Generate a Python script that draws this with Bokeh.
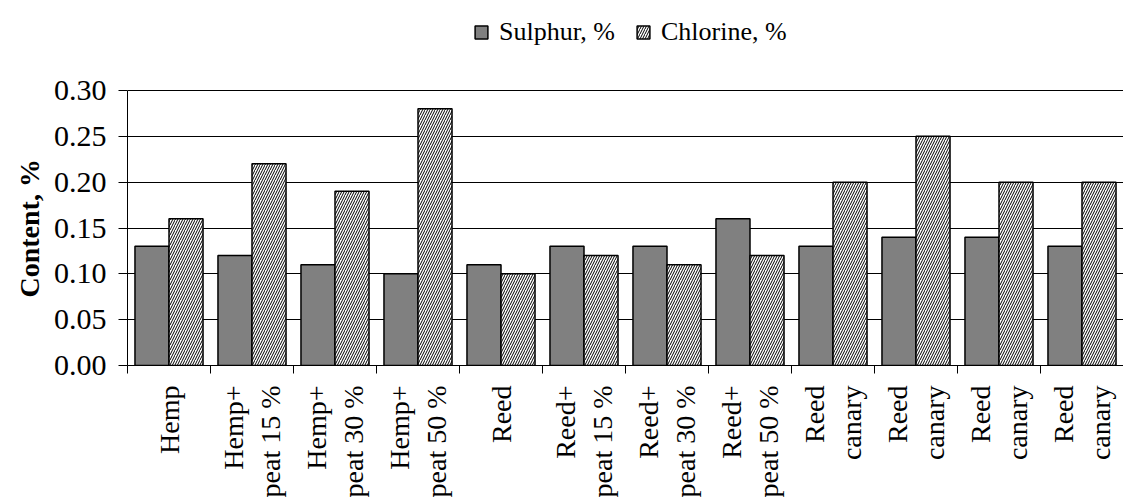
from bokeh.plotting import figure
from bokeh.models import Range1d, FixedTicker, Legend, LegendItem, ColumnDataSource, Title
from bokeh.embed import file_html
from bokeh.resources import INLINE

categories = ["Hemp", "Hemp+\npeat 15 %", "Hemp+\npeat 30 %", "Hemp+\npeat 50 %",
              "Reed", "Reed+\npeat 15 %", "Reed+\npeat 30 %", "Reed+\npeat 50 %",
              "Reed\ncanary", "Reed\ncanary", "Reed\ncanary", "Reed\ncanary"]
sulphur = [0.13, 0.12, 0.11, 0.10, 0.11, 0.13, 0.13, 0.16, 0.13, 0.14, 0.14, 0.13]
chlorine = [0.16, 0.22, 0.19, 0.28, 0.10, 0.12, 0.11, 0.12, 0.20, 0.25, 0.20, 0.20]
y_ticks = [0.0, 0.05, 0.10, 0.15, 0.20, 0.25, 0.30]

FONT = "Liberation Serif"
n = len(categories)
centers = [i + 0.5 for i in range(n)]
bw = 0.41

# frame spans pixels 0..365; value axis 0..0.30 occupies the lower 275 px,
# the space above holds the legend
Y_TOP = 0.30 * 365 / 275

src = ColumnDataSource(dict(
    xs=[c - bw / 2 for c in centers],
    xc=[c + bw / 2 for c in centers],
    s=sulphur, c=chlorine))

p = figure(width=1123, height=500, output_backend="svg", toolbar_location=None,
           x_range=Range1d(0, n), y_range=Range1d(0, Y_TOP),
           min_border_left=127, min_border_top=0, min_border_right=0,
           min_border_bottom=135)
p.outline_line_color = None
p.background_fill_color = "white"
p.border_fill_color = "white"

rs = p.vbar(x="xs", top="s", width=bw, source=src, fill_color="#808080",
            line_color="black", line_width=1.5)
rc = p.vbar(x="xc", top="c", width=bw, source=src, fill_color="white",
            line_color="black", line_width=1.5, hatch_pattern="/",
            hatch_color="black", hatch_scale=5, hatch_weight=1)

# x axis
xa = p.xaxis[0]
xa.ticker = FixedTicker(ticks=centers, minor_ticks=list(range(n + 1)))
xa.major_label_overrides = {c: lab for c, lab in zip(centers, categories)}
xa.major_tick_line_color = None
xa.major_tick_out = 0
xa.minor_tick_out = 8
xa.minor_tick_in = 0
xa.minor_tick_line_color = "black"
xa.axis_line_color = "black"
xa.major_label_orientation = 1.5707963
xa.major_label_text_font = FONT
xa.major_label_text_font_size = "28px"
xa.major_label_text_color = "black"
xa.major_label_standoff = 12

# y axis
ya = p.yaxis[0]
ya.bounds = (0, 0.30)
ya.ticker = FixedTicker(ticks=y_ticks)
ya.major_label_overrides = {t: f"{t:.2f}" for t in y_ticks}
ya.minor_tick_line_color = None
ya.major_tick_out = 9
ya.major_tick_in = 0
ya.axis_line_color = "black"
ya.major_label_text_font = FONT
ya.major_label_text_font_size = "30px"
ya.major_label_text_color = "black"
ya.major_label_standoff = 12

# y-axis title, placed along the 0..0.30 part of the axis
p.add_layout(Title(text="Content, %", align="left", offset=68,
                   text_font=FONT, text_font_size="28px", text_font_style="bold",
                   text_color="black", standoff=12), "left")

p.xgrid.grid_line_color = None
p.ygrid.ticker = FixedTicker(ticks=y_ticks)
p.ygrid.grid_line_color = "black"
p.ygrid.grid_line_width = 1

legend = Legend(items=[LegendItem(label="Sulphur, %", renderers=[rs]),
                       LegendItem(label="Chlorine, %", renderers=[rc])],
                orientation="horizontal", location=(346, 318),
                label_text_font=FONT, label_text_font_size="26px",
                label_text_color="black", glyph_width=16, glyph_height=16,
                label_standoff=10, spacing=20, padding=4, margin=0,
                border_line_color=None, background_fill_alpha=0)
p.add_layout(legend, "center")

open("out.html", "w").write(file_html(p, INLINE))
